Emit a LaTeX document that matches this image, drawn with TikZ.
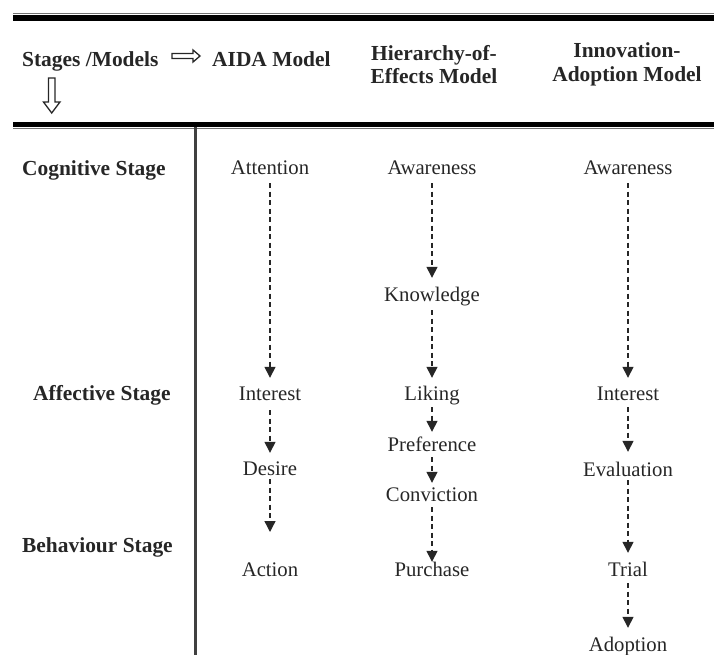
\documentclass[tikz,border=0pt]{standalone}
\usepackage{fontspec}
\setmainfont{Liberation Serif}
\usetikzlibrary{arrows.meta}
\begin{document}
\begin{tikzpicture}[x=1bp,y=-1bp,
  txt/.style={font=\fontsize{20.8}{24}\selectfont, text=black!85, inner sep=0pt, text height=13bp, text depth=4bp, anchor=base},
  stg/.style={font=\bfseries\fontsize{21.5}{24}\selectfont, text=black!85, inner sep=0pt, anchor=base west},
  hdr/.style={font=\bfseries\fontsize{21.5}{23.5}\selectfont, text=black!85, inner sep=0pt, align=center},
  flow/.style={draw=black!85, line width=1.4bp, dash pattern=on 5bp off 3.5bp, -{Triangle[width=11bp,length=11bp]}},
  hollow/.style={draw=black!85, line width=1.3bp, line join=miter}
]
\useasboundingbox (0,0) rectangle (714,655);
% rules
\draw[black!55, line width=1bp] (13,13.5) -- (714,13.5);
\draw[black, line width=6bp] (13,18) -- (714,18);
\draw[black, line width=5bp] (13,124.5) -- (714,124.5);
\draw[black!55, line width=1bp] (13,128.5) -- (714,128.5);
\draw[black!75, line width=3bp] (195,127) -- (195,655);

% header
\node[stg] (sm) at (22,67) {Stages /Models};
\node[stg] (aida) at (212,67) {AIDA Model};
\node[hdr] (hoe) at (434,64.5) {Hierarchy-of-\\Effects Model};
\node[hdr] (iam) at (627,64.5) {Innovation-\\Adoption Model};
\draw[hollow] (172,53.5) -- (193,53.5) -- (193,50) -- (200,56) -- (193,62) -- (193,58.5) -- (172,58.5) -- cycle;
\draw[hollow] (48.5,78) -- (48.5,102) -- (43.5,102) -- (51.7,113) -- (60,102) -- (55,102) -- (55,78) -- cycle;

% stage labels
\node[stg] (cog) at (22,175) {Cognitive Stage};
\node[stg] (aff) at (33,400) {Affective Stage};
\node[stg] (beh) at (22,552) {Behaviour Stage};

% AIDA
\node[txt] (a1) at (270,174) {Attention};
\node[txt] (a2) at (270,400) {Interest};
\node[txt] (a3) at (270,475) {Desire};
\node[txt] (a4) at (270,576) {Action};
\coordinate (a3end) at (270,532);
\draw[flow, shorten <=5bp, shorten >=9bp] (a1) -- (a2);
\draw[flow, shorten <=6bp, shorten >=9bp] (a2) -- (a3);
\draw[flow] (a3.south) -- (a3end);

% Hierarchy
\node[txt] (h1) at (432,174) {Awareness};
\node[txt] (h2) at (432,301) {Knowledge};
\node[txt] (h3) at (432,400) {Liking};
\node[txt] (h4) at (432,451) {Preference};
\node[txt] (h5) at (432,501) {Conviction};
\node[txt] (h6) at (432,576) {Purchase};
\draw[flow, shorten <=5bp, shorten >=10bp] (h1) -- (h2);
\draw[flow, shorten <=5bp, shorten >=9bp] (h2) -- (h3);
\draw[flow, shorten <=3bp, shorten >=6bp] (h3) -- (h4);
\draw[flow, shorten <=2bp, shorten >=5bp] (h4) -- (h5);
\draw[flow, shorten <=2bp, shorten >=1bp] (h5) -- (h6);

% Innovation-Adoption
\node[txt] (i1) at (628,174) {Awareness};
\node[txt] (i2) at (628,400) {Interest};
\node[txt] (i3) at (628,476) {Evaluation};
\node[txt] (i4) at (628,576) {Trial};
\node[txt] (i5) at (628,651) {Adoption};
\draw[flow, shorten <=5bp, shorten >=9bp] (i1) -- (i2);
\draw[flow, shorten <=3bp, shorten >=11bp] (i2) -- (i3);
\draw[flow, shorten <=0bp, shorten >=10bp] (i3) -- (i4);
\draw[flow, shorten <=3bp, shorten >=10bp] (i4) -- (i5);
\end{tikzpicture}
\end{document}
